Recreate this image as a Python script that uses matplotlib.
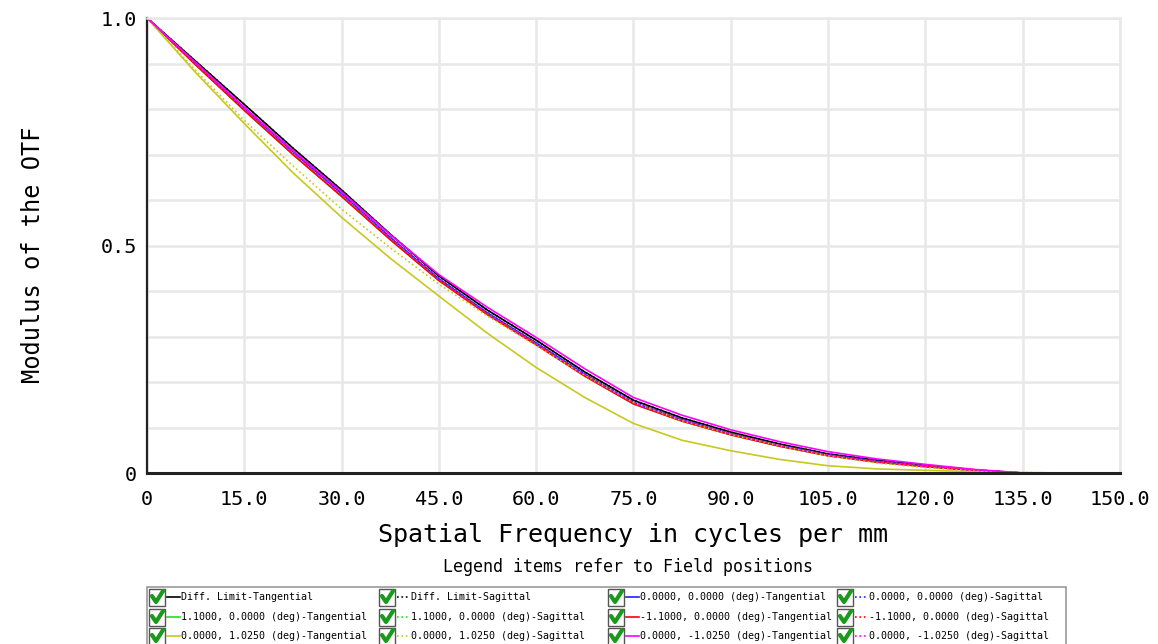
import numpy as np
import matplotlib
matplotlib.use("Agg")
import matplotlib.pyplot as plt
from matplotlib.patches import Rectangle
from matplotlib.lines import Line2D

plt.rcParams["font.family"] = ["DejaVu Sans Mono"]

# Spatial frequency samples (cycles/mm)
freq = [0, 7.5, 15, 22.5, 30, 37.5, 45, 52.5, 60, 67.5, 75,
        82.5, 90, 97.5, 105, 112.5, 120, 127.5, 135, 142.5, 150]

# MTF values per field / orientation
diff_t = [1.0, 0.905, 0.810, 0.714, 0.622, 0.525, 0.433, 0.358, 0.292, 0.222, 0.160,
          0.121, 0.090, 0.064, 0.042, 0.028, 0.017, 0.007, 0.0, 0.0, 0.0]
diff_s = diff_t
f00_t = [1.0, 0.900, 0.802, 0.706, 0.614, 0.518, 0.427, 0.352, 0.286, 0.217, 0.155,
         0.117, 0.086, 0.061, 0.040, 0.026, 0.015, 0.006, 0.0, 0.0, 0.0]
f00_s = f00_t
fp11_t = [1.0, 0.897, 0.797, 0.700, 0.608, 0.513, 0.423, 0.348, 0.282, 0.213, 0.152,
          0.114, 0.084, 0.059, 0.038, 0.024, 0.014, 0.006, 0.0, 0.0, 0.0]
fp11_s = [1.0, 0.899, 0.800, 0.703, 0.611, 0.516, 0.425, 0.350, 0.284, 0.215, 0.154,
          0.116, 0.086, 0.060, 0.039, 0.025, 0.015, 0.006, 0.0, 0.0, 0.0]
fm11_t = fp11_t
fm11_s = fp11_s
fp10_t = [1.0, 0.880, 0.768, 0.660, 0.562, 0.472, 0.389, 0.307, 0.232, 0.166, 0.109,
          0.072, 0.049, 0.030, 0.016, 0.009, 0.006, 0.003, 0.001, 0.0, 0.0]
fp10_s = [1.0, 0.885, 0.775, 0.675, 0.580, 0.495, 0.415, 0.345, 0.280, 0.215, 0.155,
          0.115, 0.085, 0.060, 0.038, 0.022, 0.012, 0.005, 0.001, 0.0, 0.0]
fm10_t = [1.0, 0.902, 0.804, 0.709, 0.618, 0.524, 0.436, 0.364, 0.298, 0.229, 0.166,
          0.127, 0.095, 0.069, 0.047, 0.031, 0.019, 0.008, 0.0, 0.0, 0.0]
fm10_s = fp11_s

labels = [
    "Diff. Limit-Tangential", "Diff. Limit-Sagittal",
    "0.0000, 0.0000 (deg)-Tangential", "0.0000, 0.0000 (deg)-Sagittal",
    "1.1000, 0.0000 (deg)-Tangential", "1.1000, 0.0000 (deg)-Sagittal",
    "-1.1000, 0.0000 (deg)-Tangential", "-1.1000, 0.0000 (deg)-Sagittal",
    "0.0000, 1.0250 (deg)-Tangential", "0.0000, 1.0250 (deg)-Sagittal",
    "0.0000, -1.0250 (deg)-Tangential", "0.0000, -1.0250 (deg)-Sagittal",
]
series = [diff_t, diff_s, f00_t, f00_s, fp11_t, fp11_s,
          fm11_t, fm11_s, fp10_t, fp10_s, fm10_t, fm10_s]
colors = ["#000000", "#000000", "#2020ff", "#2020ff", "#22dd22", "#22dd22",
          "#ff0000", "#ff0000", "#c8c81e", "#c8c81e", "#ff00ff", "#ff00ff"]
styles = ["-", ":"] * 6

xticks = [0, 15, 30, 45, 60, 75, 90, 105, 120, 135, 150]
xticklabels = ["0", "15.0", "30.0", "45.0", "60.0", "75.0", "90.0",
               "105.0", "120.0", "135.0", "150.0"]
yticks = [0, 0.5, 1.0]
yticklabels = ["0", "0.5", "1.0"]

fig = plt.figure(figsize=(11.58, 6.44), dpi=100)
ax = fig.add_axes([0.127, 0.2655, 0.840, 0.7065])

for y, c, ls in zip(series, colors, styles):
    ax.plot(freq, y, color=c, linestyle=ls, linewidth=1.2)

ax.set_xlim(0, 150)
ax.set_ylim(0, 1.0)
ax.set_xticks(xticks)
ax.set_xticklabels(xticklabels)
ax.set_yticks(yticks)
ax.set_yticklabels(yticklabels)
ax.set_yticks(np.arange(0, 1.01, 0.1), minor=True)
ax.tick_params(which="both", length=0, labelsize=14.5)
ax.tick_params(axis="x", pad=12)
ax.tick_params(axis="y", pad=7)
ax.grid(True, which="both", color="#e8e8e8", linewidth=1.8)
ax.set_axisbelow(True)

for side in ["top", "right"]:
    ax.spines[side].set_color("#e8e8e8")
    ax.spines[side].set_linewidth(1.8)
ax.spines["left"].set_color("#222222")
ax.spines["left"].set_linewidth(1.6)
ax.spines["bottom"].set_color("#222222")
ax.spines["bottom"].set_linewidth(2.2)

ax.set_xlabel("Spatial Frequency in cycles per mm", fontsize=18, labelpad=10)
ax.set_ylabel("Modulus of the OTF", fontsize=17)
ax.yaxis.set_label_coords(-0.105, 0.48)

fig.text(0.5425, 1 - 567 / 644, "Legend items refer to Field positions",
         ha="center", va="center", fontsize=12)

# legend panel with check boxes
W, H = 1158.0, 644.0
fig.add_artist(Rectangle((147 / W, -0.01), (1066 - 147) / W, (644 - 587) / H + 0.01,
                         transform=fig.transFigure, facecolor="white",
                         edgecolor="#999999", linewidth=1.2))
col_x = [149, 379, 608, 837]
row_y = [597, 617, 636]
for i, (lab, c, ls) in enumerate(zip(labels, colors, styles)):
    col, row = i % 4, i // 4
    x0, yc = col_x[col], row_y[row]
    fig.add_artist(Rectangle((x0 / W, 1 - (yc + 8.5) / H), 16 / W, 17 / H,
                             transform=fig.transFigure, facecolor="white",
                             edgecolor="#555555", linewidth=1.0))
    fig.add_artist(Line2D([(x0 + 3) / W, (x0 + 7) / W, (x0 + 14) / W],
                          [1 - (yc - 1) / H, 1 - (yc + 5) / H, 1 - (yc - 6) / H],
                          transform=fig.transFigure, color="#1a9a1a", linewidth=3.0,
                          solid_capstyle="round"))
    fig.add_artist(Line2D([(x0 + 18) / W, (x0 + 31) / W], [1 - yc / H, 1 - yc / H],
                          transform=fig.transFigure, color=c, linestyle=ls, linewidth=1.2))
    fig.text((x0 + 32) / W, 1 - yc / H, lab, ha="left", va="center", fontsize=7.2)

fig.savefig("out.png", dpi=100)
